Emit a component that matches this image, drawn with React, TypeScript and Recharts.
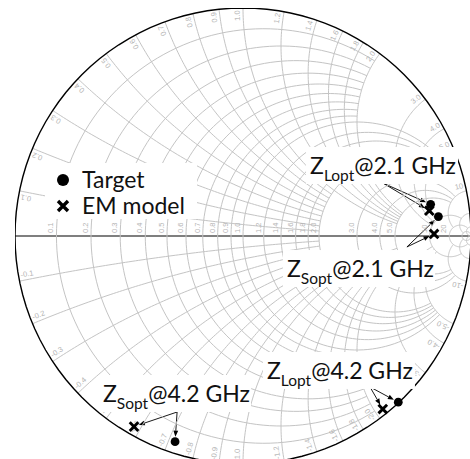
import React from "react";
import { ScatterChart, Scatter, XAxis, YAxis, ReferenceLine } from "recharts";

// Smith chart grid: resistance/reactance values and where each arc stops
const gridValues = [0.1, 0.2, 0.3, 0.4, 0.5, 0.6, 0.7, 0.8, 0.9, 1.0, 1.2, 1.4, 1.6, 1.8, 2.0, 3.0, 4.0, 5.0, 10, 20, 50];
const gridStops = [2, 2, 2, 2, 2, 2, 2, 2, 2, 5, 5, 5, 5, 5, 5, 10, 10, 10, 20, 50, Infinity];

// optimum impedances as reflection coefficients (real / imaginary)
const noteSubs = ["Lopt", "Sopt", "Lopt", "Sopt"];
const noteFreqs = ["2.1 GHz", "2.1 GHz", "4.2 GHz", "4.2 GHz"];
const targetRe = [0.823, 0.857, 0.681, -0.298];
const targetIm = [0.139, 0.085, -0.729, -0.902];
const emRe = [0.817, 0.838, 0.613, -0.478];
const emIm = [0.111, 0.009, -0.759, -0.836];

// call-out text anchors and arrow origins
const noteRe = [0.294, 0.193, 0.105, -0.614];
const noteIm = [0.272, -0.18, -0.627, -0.728];
const arrowRe = [0.614, 0.719, 0.557, -0.289];
const arrowIm = [0.232, -0.048, -0.662, -0.772];

const GRID = "#c4c4c4";
const LABEL = "#b4b4b4";
const FONT = "Lato, 'Open Sans', sans-serif";

const fmt = (v: number) => (v < 10 ? v.toFixed(1) : String(v));

function rCircle(r: number, stop: number) {
  const a = Math.atan(stop / (1 + r));
  const pts = [];
  for (let i = 0; i <= 120; i++) {
    const al = -a + (2 * a * i) / 120;
    pts.push({ x: r / (1 + r) - Math.cos(2 * al) / (1 + r), y: Math.sin(2 * al) / (1 + r) });
  }
  return pts;
}

function xArc(x: number, stop: number, sign: number) {
  const g0 = Math.atan(x);
  const g1 = stop === Infinity ? 0 : Math.atan(x / (stop + 1));
  const pts = [];
  for (let i = 0; i <= 90; i++) {
    const g = g0 + ((g1 - g0) * i) / 90;
    pts.push({ x: 1 - Math.sin(2 * g) / x, y: (sign * (1 - Math.cos(2 * g))) / x });
  }
  return pts;
}

const rimData = gridValues
  .filter((v) => v <= 10)
  .flatMap((v) =>
    [1, -1].map((s) => {
      const th = Math.atan2(2 * v, v * v - 1) + 0.026;
      return { x: 0.99 * Math.cos(th), y: s * 0.99 * Math.sin(th), label: (s < 0 ? "-" : "") + fmt(v), deg: (th * 180) / Math.PI, s };
    })
  );

const axisData = gridValues.filter((v) => v <= 20).map((v) => ({ x: (v - 1) / (v + 1), y: 0, label: fmt(v) }));

const targetData = targetRe.map((x, i) => ({ x, y: targetIm[i] }));
const emData = emRe.map((x, i) => ({ x, y: emIm[i] }));
const noteData = noteRe.map((x, i) => ({ x, y: noteIm[i], sub: noteSubs[i], freq: noteFreqs[i] }));

const Nothing = () => <g />;

const RimLabel = (p: any) => {
  const { cx, cy, payload } = p;
  const rot = payload.s > 0 ? -payload.deg : payload.deg - 180;
  return (
    <text x={cx} y={cy} transform={`rotate(${rot} ${cx} ${cy})`} textAnchor={payload.s > 0 ? "end" : "start"} dominantBaseline="central" fontSize={7.5} fill={LABEL} fontFamily="'Liberation Sans', sans-serif">
      {payload.label}
    </text>
  );
};

const AxisLabel = (p: any) => {
  const { cx, cy, payload } = p;
  const x = cx - 3;
  const y = cy - 3;
  return (
    <text x={x} y={y} transform={`rotate(-90 ${x} ${y})`} fontSize={7.5} fill={LABEL} fontFamily="'Liberation Sans', sans-serif">
      {payload.label}
    </text>
  );
};

const Note = (p: any) => {
  const { cx, cy, payload } = p;
  return (
    <g>
      <rect x={cx - 4} y={cy - 27} width={152} height={37} fill="#fff" />
      <text x={cx} y={cy} fontSize={23} fontFamily={FONT} fill="#111">
        Z<tspan fontSize={15.5} dy={7}>{payload.sub}</tspan>
        <tspan dy={-7}>@{payload.freq}</tspan>
      </text>
    </g>
  );
};

const Dot = (p: any) => <circle cx={p.cx} cy={p.cy} r={4.4} fill="#000" />;
const Cross = (p: any) => {
  const { cx, cy } = p;
  const d = 4.3;
  return <path d={`M${cx - d},${cy - d}L${cx + d},${cy + d}M${cx - d},${cy + d}L${cx + d},${cy - d}`} stroke="#000" strokeWidth={2.9} />;
};

const Arrow = (p: any) => {
  const { x1, y1, x2, y2 } = p;
  const dx = x2 - x1;
  const dy = y2 - y1;
  const len = Math.hypot(dx, dy);
  const ux = dx / len;
  const uy = dy / len;
  const ex = x2 - ux * 5;
  const ey = y2 - uy * 5;
  const bx = ex - ux * 6;
  const by = ey - uy * 6;
  return (
    <g>
      <line x1={x1} y1={y1} x2={bx} y2={by} stroke="#000" strokeWidth={0.9} />
      <polygon points={`${ex},${ey} ${bx - uy * 2.4},${by + ux * 2.4} ${bx + uy * 2.4},${by - ux * 2.4}`} fill="#000" />
    </g>
  );
};

export default function App() {
  const arrows = arrowRe.flatMap((ax, i) => [
    { from: { x: ax, y: arrowIm[i] }, to: targetData[i] },
    { from: { x: ax, y: arrowIm[i] }, to: emData[i] },
  ]);
  return (
    <div style={{ position: "absolute", left: 0, top: 0, width: 470, height: 459, overflow: "hidden", background: "#fff" }}>
      <ScatterChart width={480} height={480} margin={{ top: 8, left: 15, right: 9, bottom: 16 }}>
        <XAxis type="number" dataKey="x" domain={[-1, 1]} allowDataOverflow hide />
        <YAxis type="number" dataKey="y" domain={[-1, 1]} allowDataOverflow hide />
        {gridValues.map((v, i) => (
          <Scatter key={"r" + v} data={rCircle(v, gridStops[i])} line={{ stroke: GRID, strokeWidth: 1 }} shape={Nothing} isAnimationActive={false} />
        ))}
        {gridValues.map((v, i) => (
          <Scatter key={"xp" + v} data={xArc(v, gridStops[i], 1)} line={{ stroke: GRID, strokeWidth: 1 }} shape={Nothing} isAnimationActive={false} />
        ))}
        {gridValues.map((v, i) => (
          <Scatter key={"xn" + v} data={xArc(v, gridStops[i], -1)} line={{ stroke: GRID, strokeWidth: 1 }} shape={Nothing} isAnimationActive={false} />
        ))}
        <Scatter data={rimData} shape={RimLabel} isAnimationActive={false} />
        <Scatter data={axisData} shape={AxisLabel} isAnimationActive={false} />
        <Scatter data={rCircle(0, Infinity)} line={{ stroke: "#000", strokeWidth: 1.4 }} shape={Nothing} isAnimationActive={false} />
        <ReferenceLine y={0} stroke="#000" strokeWidth={1.2} />
        <Scatter data={noteData} shape={Note} isAnimationActive={false} />
        <Scatter data={targetData} shape={Dot} isAnimationActive={false} />
        <Scatter data={emData} shape={Cross} isAnimationActive={false} />
        {arrows.map((a, i) => (
          <ReferenceLine key={"a" + i} segment={[a.from, a.to]} shape={Arrow} />
        ))}
      </ScatterChart>
      <svg style={{ position: "absolute", left: 45, top: 163 }} width={152} height={56}>
        <rect x={0} y={0} width={152} height={56} fill="#fff" />
        <circle cx={18} cy={17} r={6} fill="#000" />
        <text x={37} y={25} fontSize={23} fontFamily={FONT} fill="#111">Target</text>
        <path d="M13,38L23,48M13,48L23,38" stroke="#000" strokeWidth={3.4} />
        <text x={37} y={51} fontSize={23} fontFamily={FONT} fill="#111">EM model</text>
      </svg>
    </div>
  );
}
